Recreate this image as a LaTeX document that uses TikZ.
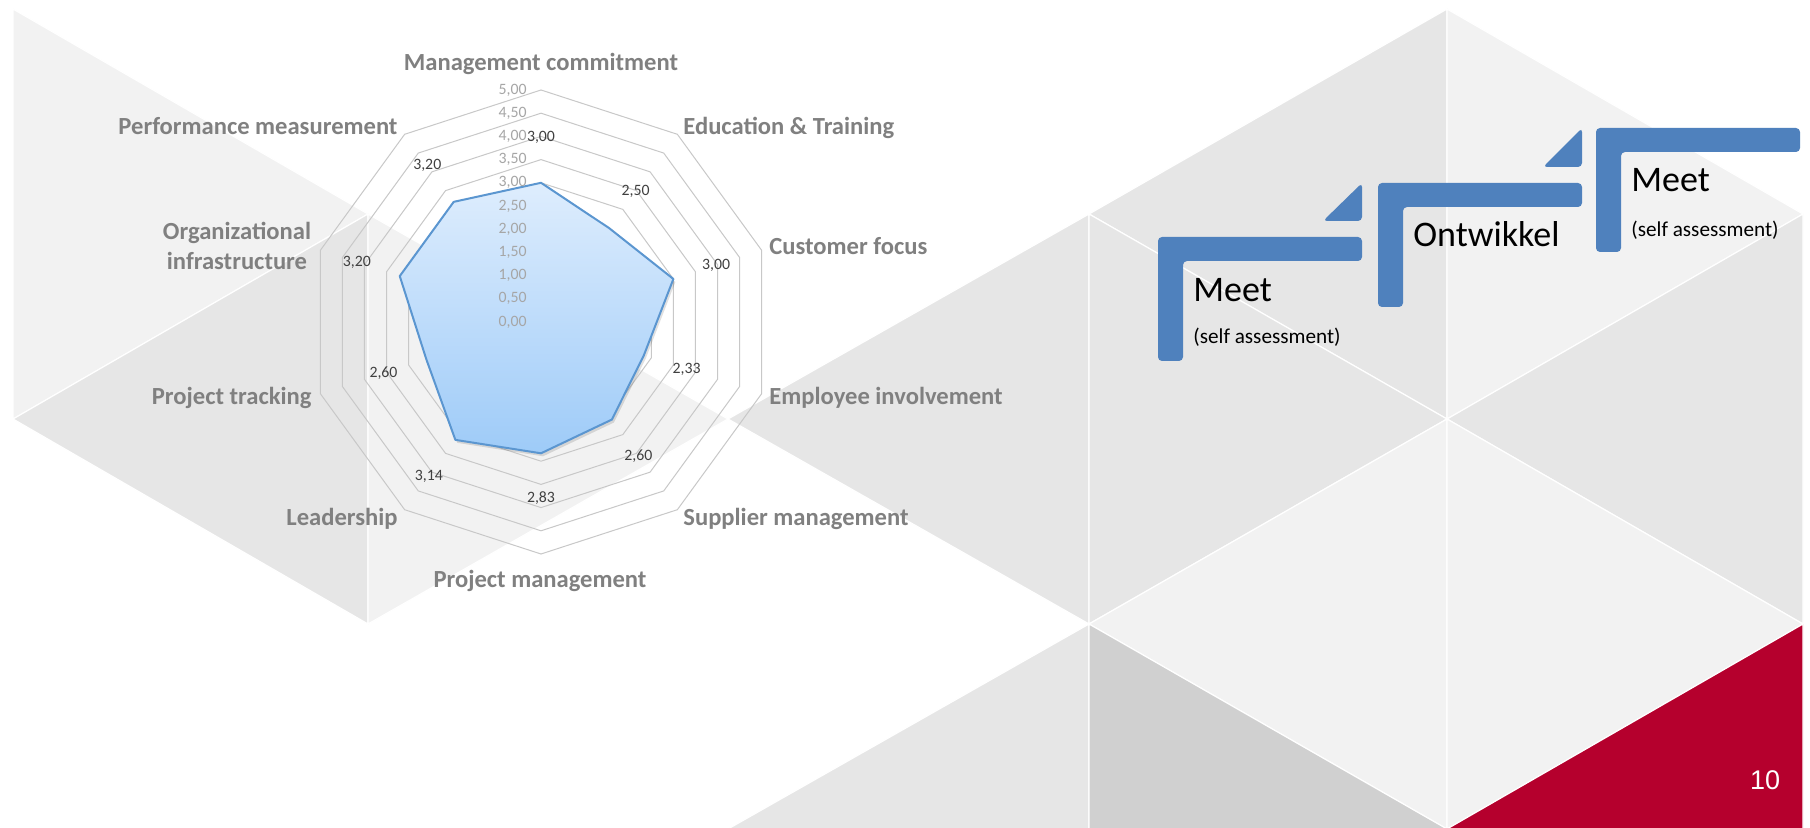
\documentclass[tikz,border=0pt]{standalone}
\usepackage{fontspec}
\setmainfont{Carlito}
\newfontfamily\pagefont{Liberation Sans}

\definecolor{bglight}{RGB}{242,242,242}
\definecolor{bggray}{RGB}{230,230,230}
\definecolor{bgdark}{RGB}{208,208,208}
\definecolor{slidered}{RGB}{181,0,45}
\definecolor{ringgray}{RGB}{200,200,200}
\definecolor{catgray}{RGB}{128,128,128}
\definecolor{tickgray}{RGB}{166,166,166}
\definecolor{valgray}{RGB}{64,64,64}
\definecolor{radarline}{RGB}{91,150,208}
\definecolor{radartop}{RGB}{222,237,253}
\definecolor{radarbot}{RGB}{158,203,248}
\definecolor{stepblue}{RGB}{79,129,189}

\tikzset{
  facet/.style={draw=white,line width=0.6pt},
  ring/.style={draw=ringgray,line width=0.5pt},
  catlbl/.style={text=catgray,inner sep=0pt,font=\bfseries\fontsize{12.3}{15}\selectfont},
  ticklbl/.style={text=tickgray,inner sep=0pt,anchor=east,font=\fontsize{7.9}{9}\selectfont},
  vallbl/.style={text=valgray,inner sep=0pt,font=\fontsize{7.9}{9}\selectfont},
  stepbar/.style={fill=stepblue,rounded corners=2},
  steptitle/.style={inner sep=0pt,anchor=base west,font=\fontsize{18}{22}\selectfont},
  stepnote/.style={inner sep=0pt,anchor=base west,font=\fontsize{10.6}{13}\selectfont},
}

\begin{document}
\begin{tikzpicture}[x=0.5pt,y=-0.5pt]

        \useasboundingbox (0,0) rectangle (1810,828);
        \fill[white] (0,0) rectangle (1810,828);

        % background facets
        \begin{scope}
          \clip (0,0) rectangle (1810,828);
          \filldraw[facet,fill=bglight] (13,9) -- (368,214) -- (13,419) -- cycle;
          \filldraw[facet,fill=bggray]  (368,214) -- (368,624) -- (13,419) -- cycle;
          \filldraw[facet,fill=bglight] (368,214) -- (728,419) -- (368,624) -- cycle;
          \filldraw[facet,fill=bggray]  (1089,214) -- (1089,624) -- (728,419) -- cycle;
          \filldraw[facet,fill=bggray]  (1089,624) -- (1089,1034) -- (728,829) -- cycle;
          \filldraw[facet,fill=bggray]  (1447,9) -- (1447,419) -- (1089,214) -- cycle;
          \filldraw[facet,fill=bglight] (1447,9) -- (1803,214) -- (1447,419) -- cycle;
          \filldraw[facet,fill=bggray]  (1089,214) -- (1447,419) -- (1089,624) -- cycle;
          \filldraw[facet,fill=bggray]  (1803,214) -- (1803,624) -- (1447,419) -- cycle;
          \filldraw[facet,fill=bglight] (1447,419) -- (1447,829) -- (1089,624) -- cycle;
          \filldraw[facet,fill=bglight] (1447,419) -- (1803,624) -- (1447,829) -- cycle;
          \filldraw[facet,fill=bgdark]  (1089,624) -- (1447,829) -- (1089,1034) -- cycle;
          \filldraw[facet,fill=slidered] (1803,624) -- (1803,1034) -- (1447,829) -- cycle;
        \end{scope}

        % radar chart
        \begin{scope}[shift={(541,322)}]
          \foreach \v in {1,...,10}
            \draw[ring] (-90:{\v*23.2}) \foreach \a in {-54,-18,...,234} { -- (\a:{\v*23.2}) } -- cycle;

          \coordinate (d1)  at (-90:139.2);
          \coordinate (d2)  at (-54:116.0);
          \coordinate (d3)  at (-18:139.2);
          \coordinate (d4)  at (18:108.1);
          \coordinate (d5)  at (54:120.6);
          \coordinate (d6)  at (90:131.3);
          \coordinate (d7)  at (126:145.7);
          \coordinate (d8)  at (162:120.6);
          \coordinate (d9)  at (198:148.5);
          \coordinate (d10) at (234:148.5);

          \fill[black,opacity=0.12,transform canvas={shift={(1pt,-1.5pt)}}]
            (d1) -- (d2) -- (d3) -- (d4) -- (d5) -- (d6) -- (d7) -- (d8) -- (d9) -- (d10) -- cycle;
          \filldraw[top color=radartop,bottom color=radarbot,draw=radarline,line width=1pt,line join=round]
            (d1) -- (d2) -- (d3) -- (d4) -- (d5) -- (d6) -- (d7) -- (d8) -- (d9) -- (d10) -- cycle;

          \node[ticklbl] (t0)  at (-14,0)      {0,00};
          \node[ticklbl] (t1)  at (-14,-23.2)  {0,50};
          \node[ticklbl] (t2)  at (-14,-46.4)  {1,00};
          \node[ticklbl] (t3)  at (-14,-69.6)  {1,50};
          \node[ticklbl] (t4)  at (-14,-92.8)  {2,00};
          \node[ticklbl] (t5)  at (-14,-116.0) {2,50};
          \node[ticklbl] (t6)  at (-14,-139.2) {3,00};
          \node[ticklbl] (t7)  at (-14,-162.4) {3,50};
          \node[ticklbl] (t8)  at (-14,-185.6) {4,00};
          \node[ticklbl] (t9)  at (-14,-208.8) {4,50};
          \node[ticklbl] (t10) at (-14,-232.0) {5,00};

          \node[vallbl] (v1)  at (-90:184.2) {3,00};
          \node[vallbl] (v2)  at (-54:161.0) {2,50};
          \node[vallbl] (v3)  at (-18:184.2) {3,00};
          \node[vallbl] (v4)  at (18:153.1)  {2,33};
          \node[vallbl] (v5)  at (54:165.6)  {2,60};
          \node[vallbl] (v6)  at (90:176.3)  {2,83};
          \node[vallbl] (v7)  at (126:190.7) {3,14};
          \node[vallbl] (v8)  at (162:165.6) {2,60};
          \node[vallbl] (v9)  at (198:193.5) {3,20};
          \node[vallbl] (v10) at (234:193.5) {3,20};
        \end{scope}

        % axis names
        \node[catlbl,anchor=base]      (mc)  at (541,71)  {Management commitment};
        \node[catlbl,anchor=base west] (et)  at (683,135) {Education \& Training};
        \node[catlbl,anchor=base west] (cf)  at (769,255) {Customer focus};
        \node[catlbl,anchor=base west] (ei)  at (769,405) {Employee involvement};
        \node[catlbl,anchor=base west] (sm)  at (683,525) {Supplier management};
        \node[catlbl,anchor=base]      (pjm) at (540,587) {Project management};
        \node[catlbl,anchor=base east] (ld)  at (398,525) {Leadership};
        \node[catlbl,anchor=base east] (pt)  at (312,405) {Project tracking};
        \node[catlbl,anchor=base]      (oi1) at (237,240) {Organizational};
        \node[catlbl,anchor=base]      (oi2) at (237,270) {infrastructure};
        \node[catlbl,anchor=base east] (pm)  at (398,135) {Performance measurement};

        % steps
        \begin{scope}[shift={(1158,237)}]
          \path[stepbar] (0,0) -- (204,0) -- (204,24) -- (25,24) -- (25,124) -- (0,124) -- cycle;
          \path[stepbar] (165,-16) -- (204,-54) -- (204,-16) -- cycle;
          \node[steptitle] (meet1) at (35,65)  {Meet};
          \node[stepnote]  (self1) at (35,107) {(self assessment)};
        \end{scope}

        \begin{scope}[shift={(1378,183)}]
          \path[stepbar] (0,0) -- (204,0) -- (204,24) -- (25,24) -- (25,124) -- (0,124) -- cycle;
          \path[stepbar] (165,-16) -- (204,-55) -- (204,-16) -- cycle;
          \node[steptitle] (dev) at (35,64) {Ontwikkel};
        \end{scope}

        \begin{scope}[shift={(1596,128)}]
          \path[stepbar] (0,0) -- (204,0) -- (204,24) -- (25,24) -- (25,124) -- (0,124) -- cycle;
          \node[steptitle] (meet2) at (35,64)  {Meet};
          \node[stepnote]  (self2) at (35,109) {(self assessment)};
        \end{scope}

        \node[text=white,inner sep=0pt,font=\pagefont\fontsize{13.5}{16}\selectfont] (page) at (1765,780) {10};

      \end{tikzpicture}
\end{document}
